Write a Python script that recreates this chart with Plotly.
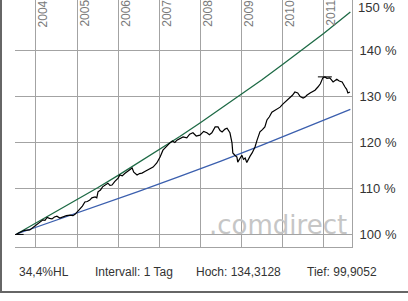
import plotly.graph_objects as go

# ---------------- data ----------------
price_t = [2003.53, 2003.62, 2003.72, 2003.85, 2003.95, 2004.05, 2004.12, 2004.17, 2004.22, 2004.27,
           2004.33, 2004.39, 2004.45, 2004.51, 2004.58, 2004.66, 2004.74, 2004.83, 2004.90, 2004.95,
           2005.02, 2005.07, 2005.13, 2005.19, 2005.25, 2005.31, 2005.36, 2005.44, 2005.48, 2005.51,
           2005.57, 2005.62, 2005.68, 2005.75, 2005.80, 2005.85, 2005.92, 2006.00, 2006.04, 2006.10,
           2006.16, 2006.21, 2006.28, 2006.34, 2006.38, 2006.42, 2006.46, 2006.52, 2006.58, 2006.66,
           2006.73, 2006.80, 2006.85, 2006.94, 2007.02, 2007.09, 2007.14, 2007.21, 2007.26, 2007.32,
           2007.38, 2007.43, 2007.50, 2007.58, 2007.67, 2007.74, 2007.82, 2007.90, 2007.99, 2008.08,
           2008.16, 2008.22, 2008.28, 2008.36, 2008.43, 2008.48, 2008.53, 2008.60, 2008.65, 2008.72,
           2008.77, 2008.79, 2008.84, 2008.89, 2008.91, 2008.96, 2009.01, 2009.05, 2009.09, 2009.13,
           2009.16, 2009.21, 2009.26, 2009.33, 2009.38, 2009.45, 2009.51, 2009.57, 2009.62, 2009.68,
           2009.74, 2009.82, 2009.88, 2009.94, 2010.00, 2010.06, 2010.12, 2010.18, 2010.24, 2010.30,
           2010.37, 2010.43, 2010.50, 2010.55, 2010.59, 2010.67, 2010.72, 2010.79, 2010.86, 2010.92,
           2010.98, 2011.03, 2011.08, 2011.15, 2011.23, 2011.28, 2011.32, 2011.38, 2011.45, 2011.52,
           2011.56, 2011.59, 2011.64]
price_v = [100.0, 100.3, 100.8, 100.9, 101.6, 102.3, 102.6, 103.1, 103.0, 103.6,
           103.4, 103.3, 103.7, 103.9, 103.5, 103.8, 104.0, 104.1, 104.0, 104.3,
           105.0, 105.7, 106.1, 107.0, 107.1, 107.4, 107.9, 108.1, 107.9, 109.2,
           109.6, 110.3, 110.7, 111.1, 110.6, 110.7, 111.5, 112.2, 112.9, 112.7,
           113.2, 113.5, 114.0, 114.4, 113.5, 113.1, 112.9, 113.2, 113.3, 113.7,
           114.0, 114.3, 114.6, 115.5, 116.8, 118.3, 118.8, 119.4, 119.9, 120.3,
           120.0, 120.5, 120.9, 121.2, 121.0, 121.8, 122.1, 121.4, 121.6, 122.4,
           122.1, 121.7, 122.1, 123.4, 123.4, 122.6, 122.3, 122.9, 123.1, 122.1,
           119.9, 117.7, 117.2, 116.8, 115.7, 116.6, 117.2, 116.3, 116.6, 115.6,
           116.2, 117.0, 117.7, 119.0, 120.5, 122.3, 122.8, 123.4, 124.9, 125.6,
           126.6, 127.1, 127.4, 127.7, 128.3, 128.8, 129.1, 129.7, 130.3, 131.0,
           130.8, 130.0, 129.7, 129.9, 130.3, 130.8, 131.0, 131.4, 132.1, 132.8,
           134.1, 134.3, 134.0, 134.1, 133.2, 133.5, 133.8, 133.4, 133.2, 132.1,
           131.6, 130.8, 131.0]

upper_t = [2003.53, 2004.0, 2004.5, 2005.0, 2005.5, 2006.0, 2006.5, 2007.0, 2007.5, 2008.0,
           2008.5, 2009.0, 2009.5, 2010.0, 2010.5, 2011.0, 2011.65]
upper_v = [100.0, 102.4, 104.9, 107.5, 110.1, 112.8, 115.6, 118.4, 121.3, 124.3,
           127.4, 130.5, 133.7, 137.0, 140.4, 143.8, 148.5]

lower_t = [2003.53, 2004.5, 2005.5, 2006.5, 2007.5, 2008.5, 2009.5, 2010.5, 2011.65]
lower_v = [100.0, 103.0, 106.1, 109.3, 112.6, 115.9, 119.4, 123.0, 127.2]

extreme_t = [2003.53, 2011.03]
extreme_v = [99.9052, 134.3128]

years = [2004, 2005, 2006, 2007, 2008, 2009, 2010, 2011]
y_ticks = [100, 110, 120, 130, 140, 150]
y_ticktext = ["100 %", "110 %", "120 %", "130 %", "140 %", "150 %"]
footer = ["34,4%HL", "Intervall: 1 Tag", "Hoch: 134,3128", "Tief: 99,9052"]
footer_px = [17, 93, 194, 305]

# ---------------- layout geometry ----------------
W, H = 408, 301
L, R, T, B = 15, 352, 0, 247  # plot area in pixels


def px_x(px):
    return (px - L) / (R - L)


def px_y(py):
    return (B - py) / (B - T)


FONT = "Liberation Sans, Arial, sans-serif"
GRID = "#a3a3a3"
TICKFONT = dict(family=FONT, size=13, color="#333333")

fig = go.Figure()
fig.add_trace(go.Scatter(x=upper_t, y=upper_v, mode="lines",
                         line=dict(color="#1d6a45", width=1.3), hoverinfo="skip"))
fig.add_trace(go.Scatter(x=lower_t, y=lower_v, mode="lines",
                         line=dict(color="#3b5fae", width=1.3), hoverinfo="skip"))
fig.add_trace(go.Scatter(x=price_t, y=price_v, mode="lines",
                         line=dict(color="#000000", width=1.2), hoverinfo="skip"))
fig.add_trace(go.Scatter(x=extreme_t, y=extreme_v, mode="markers",
                         marker=dict(symbol="line-ew", size=10,
                                     line=dict(color="#000000", width=1)),
                         hoverinfo="skip"))
# invisible trace to activate the grid-only overlay axis
fig.add_trace(go.Scatter(x=[years[0]], y=[y_ticks[0]], yaxis="y2", mode="markers",
                         marker=dict(opacity=0), hoverinfo="skip"))

annotations = []
for yr in years:
    annotations.append(dict(x=yr, xref="x", y=1, yref="paper", text=str(yr),
                            textangle=-90, showarrow=False, xanchor="center",
                            yanchor="top", xshift=7, yshift=2,
                            font=dict(family=FONT, size=12, color="#7a7a7a")))
# top tick label (sits at the very edge of the figure, so drawn as annotation)
annotations.append(dict(x=1, xref="paper", y=1, yref="paper",
                        text=y_ticktext[-1], showarrow=False, xanchor="left",
                        yanchor="top", xshift=5, yshift=1, borderpad=0,
                        font=TICKFONT))
for txt, px in zip(footer, footer_px):
    annotations.append(dict(x=px_x(px), xref="paper", y=px_y(272), yref="paper",
                            text=txt, showarrow=False, xanchor="left", yanchor="middle",
                            font=dict(family=FONT, size=12, color="#333333")))
annotations.append(dict(x=px_x(349), xref="paper", y=px_y(225), yref="paper",
                        text=".comdirect", showarrow=False, xanchor="right",
                        yanchor="middle",
                        font=dict(family="DejaVu Sans, sans-serif", size=26, color="#c6c6c6")))

shapes = [
    dict(type="line", xref="paper", yref="paper", x0=px_x(1), x1=px_x(1),
         y0=px_y(0), y1=px_y(292), line=dict(color="#666666", width=2)),
    dict(type="line", xref="paper", yref="paper", x0=px_x(0), x1=px_x(W),
         y0=px_y(292), y1=px_y(292), line=dict(color="#666666", width=2)),
]

yrange = [97.16, 151.1]
fig.update_layout(
    width=W, height=H,
    margin=dict(l=L, r=W - R, t=T, b=H - B, pad=0),
    paper_bgcolor="white", plot_bgcolor="white",
    showlegend=False,
    xaxis=dict(range=[2003.49, 2011.69], tickvals=years, showticklabels=False,
               showgrid=True, gridcolor=GRID, gridwidth=1, zeroline=False,
               showline=True, linecolor=GRID, linewidth=1, ticks=""),
    yaxis=dict(range=yrange, side="right", tickvals=y_ticks[:-1], ticktext=y_ticktext[:-1],
               showgrid=False, zeroline=False, showline=True, linecolor=GRID,
               linewidth=1, ticks="", ticklabelstandoff=4, tickfont=TICKFONT),
    yaxis2=dict(range=yrange, overlaying="y", side="right", tickvals=y_ticks[:-1],
                showticklabels=False, showgrid=True, gridcolor=GRID, gridwidth=1,
                zeroline=False, showline=False, ticks=""),
    annotations=annotations,
    shapes=shapes,
)

fig.write_html("out.html")
